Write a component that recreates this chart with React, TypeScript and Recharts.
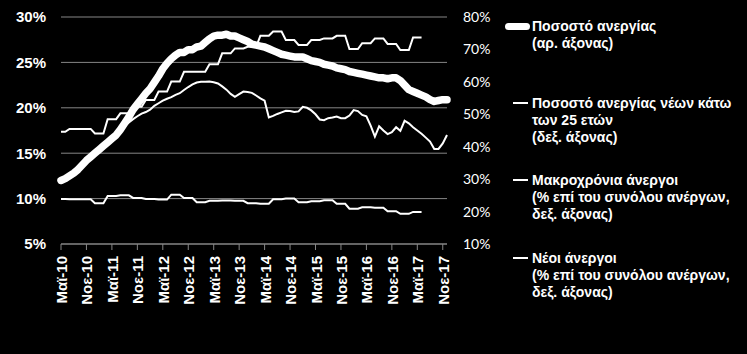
import { LineChart, Line, XAxis, YAxis, CartesianGrid } from 'recharts';

// Greek month abbreviations, the axis shows only May / Nov
const monthNames = ['Ιαν', 'Φεβ', 'Μαρ', 'Απρ', 'Μαϊ', 'Ιουν', 'Ιουλ', 'Αυγ', 'Σεπ', 'Οκτ', 'Νοε', 'Δεκ'];

// Μαϊ-10 ... Δεκ-17, monthly
const months: string[] = [];
for (let y = 2010; y <= 2017; y++) {
  for (let m = 0; m < 12; m++) {
    if (y === 2010 && m < 4) continue;
    months.push(`${monthNames[m]}-${String(y).slice(2)}`);
  }
}

// unemployment rate, % (left axis), monthly
const unemploymentRate = [
  12.0, 12.2, 12.5, 12.8, 13.2, 13.7, 14.2, 14.6, 15.0, 15.4,
  15.8, 16.2, 16.6, 17.0, 17.6, 18.3, 19.0, 19.8, 20.4, 21.0,
  21.6, 22.1, 22.8, 23.5, 24.3, 24.9, 25.4, 25.8, 26.1, 26.1,
  26.4, 26.4, 26.7, 26.8, 27.2, 27.6, 27.9, 28.0, 28.0, 28.1,
  27.9, 27.9, 27.7, 27.5, 27.3, 27.0, 26.9, 26.8, 26.7, 26.5,
  26.3, 26.1, 25.9, 25.8, 25.7, 25.6, 25.6, 25.6, 25.4, 25.2,
  25.1, 25.0, 24.8, 24.7, 24.6, 24.4, 24.3, 24.2, 24.0, 23.9,
  23.8, 23.7, 23.6, 23.5, 23.4, 23.3, 23.3, 23.2, 23.3, 23.3,
  23.0, 22.5, 22.0, 21.8, 21.6, 21.4, 21.2, 20.9, 20.7, 20.8,
  20.9, 20.9,
];

// youth (<25) unemployment rate, % (right axis), monthly
const youthUnemployment = [
  29.6, 30.2, 31.0, 31.8, 33.0, 34.4, 35.8, 36.9, 38.0, 39.1,
  40.2, 41.4, 42.5, 43.6, 45.0, 46.4, 47.5, 48.5, 49.4, 50.2,
  50.7, 51.4, 52.6, 53.4, 54.2, 54.8, 55.3, 56.0, 56.5, 57.5,
  58.4, 59.2, 59.8, 60.0, 60.0, 60.1, 59.9, 59.5, 58.6, 57.6,
  56.3, 55.4, 56.2, 57.0, 56.9, 56.6, 55.8, 54.9, 54.2, 49.0,
  49.5, 50.1, 50.6, 51.1, 51.0, 50.7, 50.9, 52.3, 52.0, 51.2,
  50.0, 48.4, 48.2, 48.8, 49.0, 49.3, 48.8, 48.8, 49.6, 51.3,
  51.0, 49.8, 49.4, 46.5, 43.1, 46.3, 45.0, 43.9, 44.5, 46.0,
  44.9, 48.0, 47.2, 46.0, 45.0, 44.0, 42.8, 41.6, 39.3, 39.3,
  41.0, 43.6,
];

// quarterly, Q2-10 ... Q2-17 (% of all unemployed, right axis)
const longTermQ = [
  44.6, 45.5, 45.5,
  44.1, 48.5, 50.3, 52.3,
  54.4, 57.0, 60.1, 63.1,
  63.1, 65.4, 68.8, 70.3,
  70.8, 74.2, 75.5, 72.9,
  71.4, 72.9, 73.4, 74.2,
  70.1, 71.9, 73.4, 71.7,
  69.8, 73.7,
];

const newUnemployedQ = [
  23.9, 23.8, 23.8,
  22.6, 24.8, 25.0, 24.2,
  23.9, 23.7, 25.2, 24.2,
  22.9, 23.3, 23.4, 23.3,
  22.6, 22.4, 23.8, 24.0,
  22.9, 23.2, 23.5, 22.4,
  20.9, 21.3, 21.2, 20.1,
  19.3, 19.9,
];

const leftTicks = [5, 10, 15, 20, 25, 30];
const rightTicks = [10, 20, 30, 40, 50, 60, 70, 80];

const legendItems = [
  { lines: ['Ποσοστό ανεργίας', '(αρ. άξονας)'], thick: true },
  { lines: ['Ποσοστό ανεργίας νέων κάτω', 'των 25 ετών', '(δεξ. άξονας)'], thick: false },
  { lines: ['Μακροχρόνια άνεργοι', '(% επί του συνόλου ανέργων,', 'δεξ. άξονας)'], thick: false },
  { lines: ['Νέοι άνεργοι', '(% επί του συνόλου ανέργων,', 'δεξ. άξονας)'], thick: false },
];

const chartData = months.map((m, i) => {
  const q = Math.floor((i + 1) / 3); // May-10 is the 2nd month of Q2-10
  return {
    month: m,
    unemp: unemploymentRate[i],
    youth: youthUnemployment[i],
    longTerm: longTermQ[q],
    newUnemp: newUnemployedQ[q],
  };
});

const GRID = '#868686';
const boldFont = '"Liberation Sans", Arial, sans-serif';

const MonthTick = ({ x, y, payload }: any) => (
  <text
    x={x}
    y={y}
    dy="0.4em"
    transform={`rotate(-90 ${x} ${y})`}
    textAnchor="end"
    fill="#fff"
    fontFamily={boldFont}
    fontWeight="bold"
    fontSize={15}
  >
    {payload.value}
  </text>
);

const legendTops = [17.5, 94.5, 171.5, 249.5];

const LegendBox = () => (
  <div style={{ position: 'absolute', left: 0, top: 0 }}>
    {legendItems.map((item, k) => (
      <div key={k} style={{ position: 'absolute', left: 0, top: legendTops[k], width: 747 }}>
        <div
          style={{
            position: 'absolute',
            left: item.thick ? 505 : 513,
            top: item.thick ? 5 : 7.5,
            width: item.thick ? 25 : 15,
            height: item.thick ? 7 : 2,
            borderRadius: item.thick ? 4 : 0,
            background: '#fff',
          }}
        />
        <div
          style={{
            position: 'absolute',
            left: 532,
            top: 0,
            color: '#fff',
            fontFamily: boldFont,
            fontWeight: 'bold',
            fontSize: 14,
            lineHeight: '17px',
            whiteSpace: 'nowrap',
          }}
        >
          {item.lines.map((l, j) => (
            <div key={j}>{l}</div>
          ))}
        </div>
      </div>
    ))}
  </div>
);

export default function App() {
  return (
    <div style={{ position: 'absolute', left: 0, top: 0, width: 747, height: 354, background: '#000' }}>
      <LineChart width={747} height={354} data={chartData} margin={{ top: 17, right: 0, bottom: 0, left: 0 }}>
        <CartesianGrid yAxisId="left" vertical={false} stroke={GRID} />
        <XAxis
          dataKey="month"
          scale="point"
          padding={{ left: 0, right: 0 }}
          interval={5}
          height={110}
          tickSize={6}
          tickMargin={6}
          axisLine={{ stroke: GRID }}
          tickLine={{ stroke: GRID }}
          tick={(p: any) => <MonthTick {...p} />}
        />
        <YAxis
          yAxisId="left"
          domain={[5, 30]}
          ticks={leftTicks}
          width={61}
          axisLine={false}
          tickLine={false}
          tickMargin={9}
          tickFormatter={(v: number) => `${v}%`}
          tick={{ fill: '#fff', fontFamily: boldFont, fontWeight: 'bold', fontSize: 15 }}
        />
        <YAxis
          yAxisId="right"
          orientation="right"
          domain={[10, 80]}
          ticks={rightTicks}
          width={300}
          axisLine={false}
          tickLine={false}
          tickMargin={10}
          tickFormatter={(v: number) => `${v}%`}
          tick={{ fill: '#fff', fontFamily: 'Lato, sans-serif', fontSize: 14, textAnchor: 'start' }}
        />
        <Line yAxisId="right" dataKey="longTerm" stroke="#fff" strokeWidth={2} dot={false} isAnimationActive={false} />
        <Line yAxisId="right" dataKey="newUnemp" stroke="#fff" strokeWidth={2} dot={false} isAnimationActive={false} />
        <Line yAxisId="right" dataKey="youth" stroke="#fff" strokeWidth={2} dot={false} isAnimationActive={false} />
        <Line
          yAxisId="left"
          dataKey="unemp"
          stroke="#fff"
          strokeWidth={7.5}
          strokeLinejoin="round"
          strokeLinecap="round"
          dot={false}
          isAnimationActive={false}
        />
      </LineChart>
      <LegendBox />
    </div>
  );
}
